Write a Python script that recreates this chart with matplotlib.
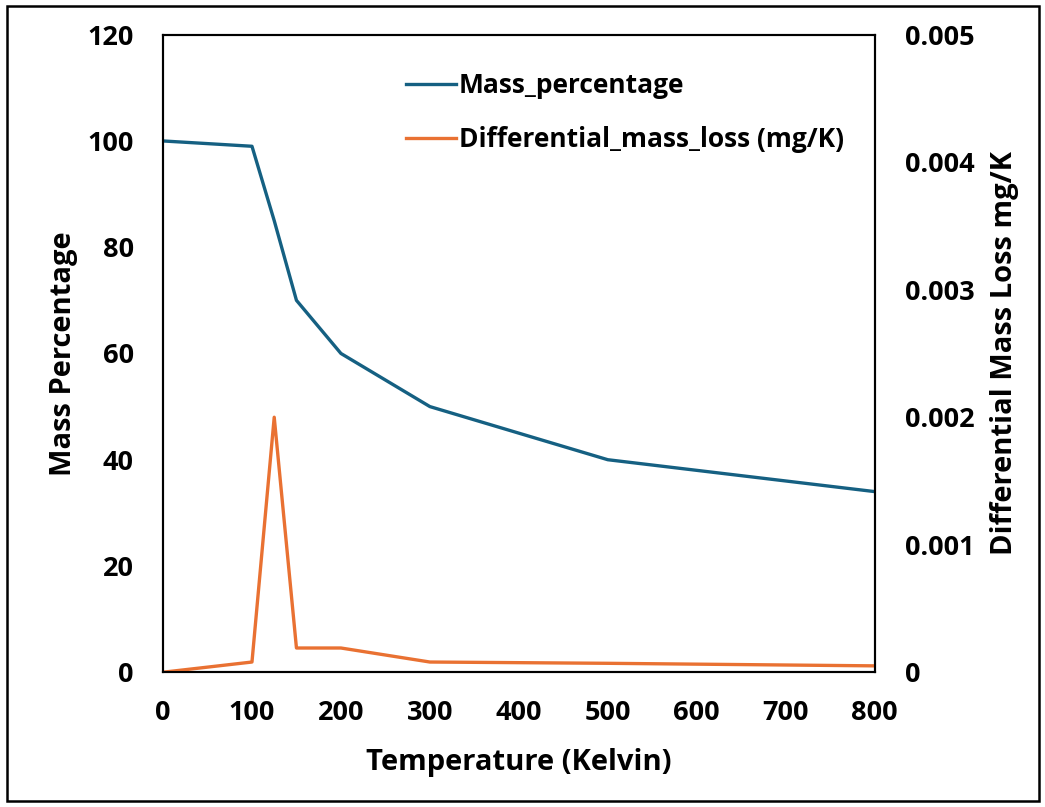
import matplotlib
matplotlib.use("Agg")
import matplotlib.pyplot as plt
from matplotlib.patches import Rectangle

plt.rcParams['font.family'] = ['Open Sans', 'DejaVu Sans']
plt.rcParams['font.weight'] = 'bold'

# data
temperature = [0, 100, 125, 150, 200, 300, 500, 800]
mass_pct = [100, 99, 85, 70, 60, 50, 40, 34]
diff_loss = [0.0, 0.00008, 0.002, 0.00019, 0.00019, 0.00008, 0.00007, 0.00005]

left_ticks = [0, 20, 40, 60, 80, 100, 120]
right_ticks = [0, 0.001, 0.002, 0.003, 0.004, 0.005]
right_labels = ["0", "0.001", "0.002", "0.003", "0.004", "0.005"]
x_ticks = [0, 100, 200, 300, 400, 500, 600, 700, 800]

blue = '#156082'
orange = '#E97132'

fig = plt.figure(figsize=(10.45, 8.07), dpi=100)
ax = fig.add_axes([0.156, 0.167, 0.681, 0.790])
ax2 = ax.twinx()

l1, = ax.plot(temperature, mass_pct, color=blue, lw=2.4, label='Mass_percentage')
l2, = ax2.plot(temperature, diff_loss, color=orange, lw=2.4, label='Differential_mass_loss (mg/K)')

ax.set_xlim(0, 800)
ax.set_ylim(0, 120)
ax2.set_ylim(0, 0.005)
ax.set_xticks(x_ticks)
ax.set_yticks(left_ticks)
ax2.set_yticks(right_ticks)
ax2.set_yticklabels(right_labels)

ax.tick_params(axis='y', length=0, labelsize=19.5, pad=21)
ax.tick_params(axis='x', length=0, labelsize=19.5, pad=20)
ax2.tick_params(axis='y', length=0, labelsize=19.5, pad=22)
for t in ax.get_xticklabels() + ax.get_yticklabels() + ax2.get_yticklabels():
    t.set_fontweight('bold')

for a in (ax, ax2):
    for s in a.spines.values():
        s.set_linewidth(1.5)
        s.set_color('black')

ax.set_xlabel('Temperature (Kelvin)', fontsize=21, fontweight='bold', labelpad=16)
ax.set_ylabel('Mass Percentage', fontsize=21, fontweight='bold', labelpad=7)
ax2.set_ylabel('Differential Mass Loss mg/K', fontsize=21, fontweight='bold', labelpad=11)

leg = ax.legend(handles=[l1, l2], loc='upper left', bbox_to_anchor=(0.308, 0.978),
                frameon=False, handlelength=1.9, handletextpad=0.1,
                labelspacing=1.02, prop={'weight': 'bold', 'size': 19})

fig.patches.append(Rectangle((0.007, 0.008), 0.987, 0.985, transform=fig.transFigure,
                             fill=False, edgecolor='black', lw=1.8))

fig.savefig('out.png', dpi=100)
